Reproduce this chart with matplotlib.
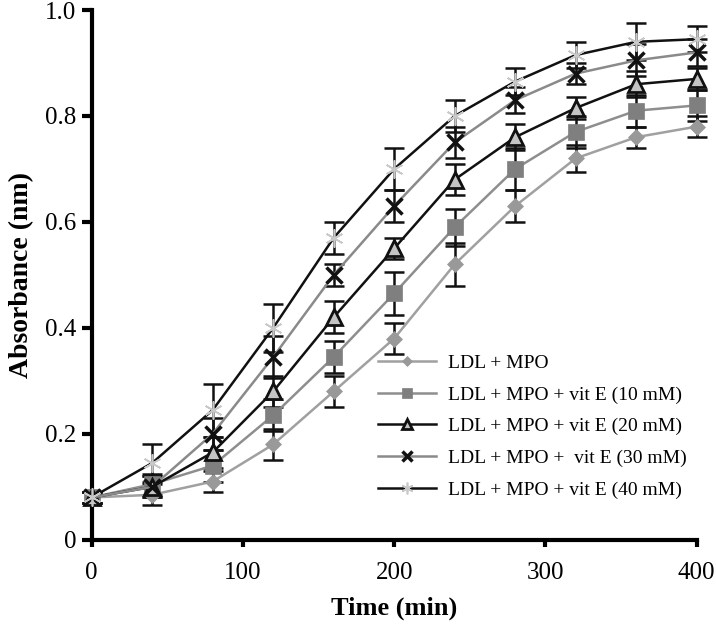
import matplotlib
matplotlib.use('Agg')
import matplotlib.pyplot as plt

plt.rcParams['font.family'] = ['Liberation Serif', 'DejaVu Serif']

# --- data ---
time_min = [0, 40, 80, 120, 160, 200, 240, 280, 320, 360, 400]

mpo = [0.08, 0.085, 0.11, 0.18, 0.28, 0.38, 0.52, 0.63, 0.72, 0.76, 0.78]
mpo_err = [0.01, 0.02, 0.02, 0.03, 0.03, 0.03, 0.04, 0.03, 0.025, 0.02, 0.02]

vit10 = [0.08, 0.105, 0.14, 0.235, 0.345, 0.465, 0.59, 0.70, 0.77, 0.81, 0.82]
vit10_err = [0.01, 0.02, 0.03, 0.03, 0.03, 0.04, 0.035, 0.04, 0.03, 0.03, 0.03]

vit20 = [0.08, 0.10, 0.165, 0.28, 0.42, 0.55, 0.68, 0.76, 0.815, 0.86, 0.87]
vit20_err = [0.01, 0.02, 0.03, 0.03, 0.03, 0.02, 0.03, 0.025, 0.02, 0.025, 0.02]

vit30 = [0.08, 0.10, 0.20, 0.345, 0.50, 0.63, 0.75, 0.83, 0.88, 0.905, 0.92]
vit30_err = [0.01, 0.02, 0.03, 0.04, 0.02, 0.03, 0.03, 0.025, 0.02, 0.03, 0.025]

vit40 = [0.08, 0.145, 0.245, 0.40, 0.57, 0.70, 0.80, 0.865, 0.915, 0.94, 0.945]
vit40_err = [0.01, 0.035, 0.05, 0.045, 0.03, 0.04, 0.03, 0.025, 0.025, 0.035, 0.025]

labels = ['LDL + MPO',
          'LDL + MPO + vit E (10 mM)',
          'LDL + MPO + vit E (20 mM)',
          'LDL + MPO +  vit E (30 mM)',
          'LDL + MPO + vit E (40 mM)']

x_ticks = [0, 100, 200, 300, 400]
y_ticks = [0, 0.2, 0.4, 0.6, 0.8, 1.0]
y_tick_labels = ['0', '0.2', '0.4', '0.6', '0.8', '1.0']

# --- figure ---
fig = plt.figure(figsize=(7.16, 6.27), dpi=100)
ax = fig.add_axes([0.128, 0.139, 0.845, 0.845])

styles = [
    dict(color='#a0a0a0', marker='D', ms=8, mfc='#999999', mec='#999999', mew=0.5),
    dict(color='#8e8e8e', marker='s', ms=12, mfc='#7f7f7f', mec='#7f7f7f', mew=0.5),
    dict(color='#111111', marker='^', ms=12, mfc='#c4c4c4', mec='#111111', mew=2),
    dict(color='#8a8a8a', marker='x', ms=11, mfc='#111111', mec='#111111', mew=2.5),
    dict(color='#111111', marker=(6, 2, 0), ms=13, mfc='#c8c8c8', mec='#c8c8c8', mew=1.2),
]
series = [(mpo, mpo_err), (vit10, vit10_err), (vit20, vit20_err),
          (vit30, vit30_err), (vit40, vit40_err)]

handles = []
for (vals, errs), st, lab in zip(series, styles, labels):
    ax.errorbar(time_min, vals, yerr=errs, fmt='none', ecolor='#111111',
                elinewidth=1.8, capsize=7, capthick=1.8, clip_on=False, zorder=2)
    h, = ax.plot(time_min, vals, lw=1.8, clip_on=False, zorder=3, label=lab, **st)
    handles.append(h)

ax.set_xlim(0, 400)
ax.set_ylim(0, 1.0)
ax.set_xticks(x_ticks)
ax.set_xticklabels([str(t) for t in x_ticks])
ax.set_yticks(y_ticks)
ax.set_yticklabels(y_tick_labels)

for side in ['top', 'right']:
    ax.spines[side].set_visible(False)
for side in ['left', 'bottom']:
    ax.spines[side].set_linewidth(3)

ax.tick_params(axis='y', direction='out', length=7, width=3, labelsize=18, pad=4)
ax.tick_params(axis='x', direction='out', length=5, width=3, labelsize=18, pad=11)

ax.set_xlabel('Time (min)', fontsize=19, fontweight='bold', labelpad=9)
ax.set_ylabel('Absorbance (nm)', fontsize=20, fontweight='bold', labelpad=8)

ax.legend(handles=handles, loc='upper left', bbox_to_anchor=(0.528, 0.435),
          bbox_transform=fig.transFigure, frameon=False, fontsize=14,
          handlelength=3.0, handletextpad=0.6, labelspacing=0.72,
          borderpad=0, borderaxespad=0, markerscale=0.65)

plt.savefig('out.png', dpi=100)
